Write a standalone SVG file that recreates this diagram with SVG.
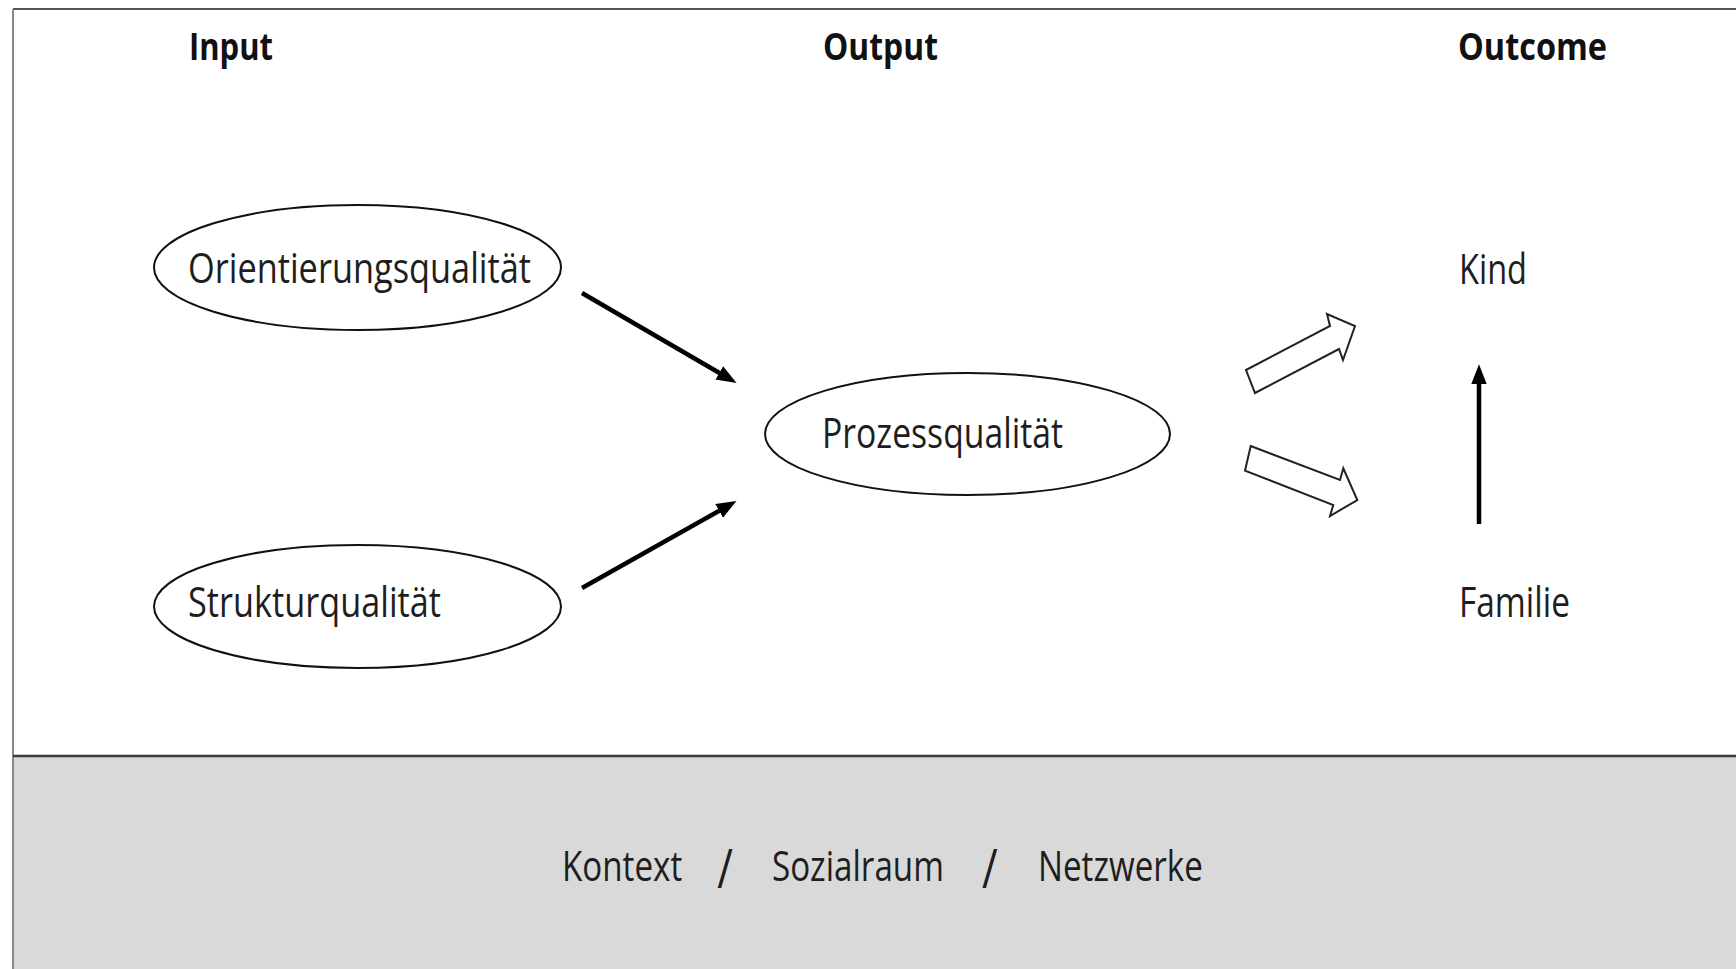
<svg xmlns="http://www.w3.org/2000/svg" width="1736" height="969" viewBox="0 0 1736 969">
<style>
  .lbl { font-family: "Open Sans", "Noto Sans", "Liberation Sans", sans-serif; font-size: 42px; fill: #1e1e1e; }
  .sl { font-family: "Open Sans", "Noto Sans", "Liberation Sans", sans-serif; font-size: 54px; fill: #1e1e1e; }
  .hdr { font-family: "Open Sans", "Noto Sans", "Liberation Sans", sans-serif; font-size: 37px; font-weight: bold; fill: #111; }
  .ell { fill: #fff; stroke: #111; stroke-width: 2; }
  .arr { stroke: #000; stroke-width: 4.5; fill: none; }
  .hollow { fill: #fff; stroke: #222; stroke-width: 2; stroke-linejoin: miter; }
</style>
<defs>
  <marker id="head" markerUnits="userSpaceOnUse" markerWidth="20" markerHeight="16" refX="2" refY="7" orient="auto" viewBox="0 0 18 14">
    <path d="M0,0 L18,7 L0,14 z" fill="#000"/>
  </marker>
</defs>
<rect x="0" y="0" width="1736" height="969" fill="#fff"/>
<g id="frame">
  <rect x="13" y="756" width="1723" height="213" fill="#d9d9d9"/>
  <line x1="13" y1="9" x2="1736" y2="9" stroke="#555" stroke-width="2"/>
  <line x1="13" y1="9" x2="13" y2="969" stroke="#888" stroke-width="2"/>
  <line x1="13" y1="756" x2="1736" y2="756" stroke="#3a3a3a" stroke-width="2.5"/>
</g>
<g id="headers">
  <text class="hdr" x="189" y="60" textLength="84" lengthAdjust="spacingAndGlyphs">Input</text>
  <text class="hdr" x="823" y="60" textLength="115" lengthAdjust="spacingAndGlyphs">Output</text>
  <text class="hdr" x="1458" y="60" textLength="149" lengthAdjust="spacingAndGlyphs">Outcome</text>
</g>
<g id="node-orientierung">
  <ellipse class="ell" cx="357.5" cy="267.5" rx="203.5" ry="62.5"/>
  <text class="lbl" x="188" y="283" textLength="343" lengthAdjust="spacingAndGlyphs">Orientierungsqualität</text>
</g>
<g id="node-struktur">
  <ellipse class="ell" cx="357.5" cy="606.5" rx="203.5" ry="61.5"/>
  <text class="lbl" x="188" y="617" textLength="253" lengthAdjust="spacingAndGlyphs">Strukturqualität</text>
</g>
<g id="node-prozess">
  <ellipse class="ell" cx="967.5" cy="434" rx="202.5" ry="61"/>
  <text class="lbl" x="822" y="448" textLength="241" lengthAdjust="spacingAndGlyphs">Prozessqualität</text>
</g>
<g id="node-kind">
  <text class="lbl" x="1459" y="284" textLength="68" lengthAdjust="spacingAndGlyphs">Kind</text>
</g>
<g id="node-familie">
  <text class="lbl" x="1459" y="617" textLength="111" lengthAdjust="spacingAndGlyphs">Familie</text>
</g>
<g id="connectors">
  <line class="arr" x1="582" y1="293" x2="721.2" y2="374" marker-end="url(#head)"/>
  <line class="arr" x1="582" y1="588" x2="721" y2="509.8" marker-end="url(#head)"/>
  <line class="arr" x1="1479" y1="524" x2="1479" y2="382" stroke-width="4" marker-end="url(#head)"/>
  <polygon class="hollow" points="1246,370 1330,326 1327,314 1355,326 1343,360 1339,349 1255,393"/>
  <polygon class="hollow" points="1250.7,446 1340,480 1343.3,468.3 1357.3,500 1330,516 1333.3,505 1245,470.7"/>
</g>
<g id="context" transform="scale(0.79,1)">
  <text class="lbl" x="711.4" y="881">Kontext</text>
  <text class="sl" x="908" y="888">/</text>
  <text class="lbl" x="977.2" y="881">Sozialraum</text>
  <text class="sl" x="1243" y="888">/</text>
  <text class="lbl" x="1313.9" y="881">Netzwerke</text>
</g>
</svg>
